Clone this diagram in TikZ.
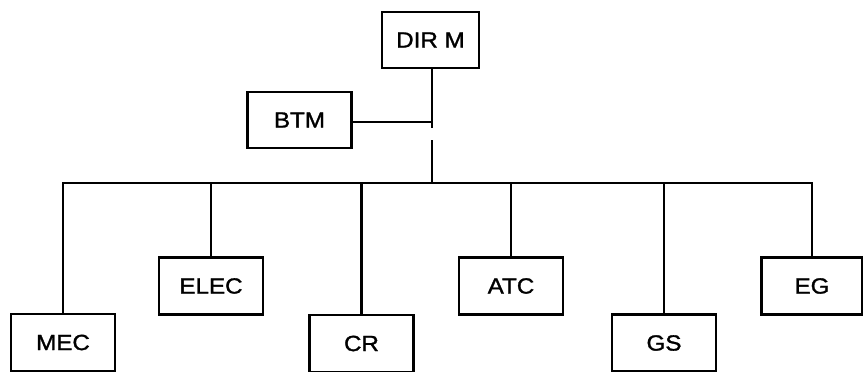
\documentclass[tikz,border=0pt]{standalone}
\usepackage{fontspec}
\usepackage{graphicx}
\setmainfont{Liberation Sans}
\newfontfamily\boxfont{Liberation Sans}[FakeBold=1.3]
\newcommand{\widetext}[1]{\scalebox{1.1}[1]{\boxfont #1}}
\begin{document}
\begin{tikzpicture}[x=1pt,y=-1pt,
  orgbox/.style={draw,line width=2.4pt,minimum width=104pt,minimum height=57pt,inner sep=0pt,font=\fontsize{22}{24}\selectfont},
  conn/.style={line width=2.2pt}]
\useasboundingbox (0,0) rectangle (863,372);
\node[orgbox,minimum width=97pt,minimum height=56pt] (dir) at (430.5,40) {\widetext{DIR M}};
\node[orgbox,minimum height=56pt] (btm) at (299.5,120) {\widetext{BTM}};
\node[orgbox] (mec) at (63,342.5) {\widetext{MEC}};
\node[orgbox] (elec) at (211,286) {\widetext{ELEC}};
\node[orgbox] (cr) at (361.5,343.5) {\widetext{CR}};
\node[orgbox] (atc) at (511,286) {\widetext{ATC}};
\node[orgbox] (gs) at (664,343) {\widetext{GS}};
\node[orgbox,minimum width=101pt] (eg) at (812,286) {\widetext{EG}};
\coordinate (j) at (432,122);
\coordinate (g1) at (432,128);
\coordinate (g2) at (432,140);
\coordinate (bus) at (432,183);
\draw[conn] (dir.south -| j) -- (g1);
\draw[conn] (btm.east |- j) -- (j);
\draw[conn] (g2) -- (bus);
\draw[conn] (mec.north) -- (mec.north |- bus) -- (eg.north |- bus) -- (eg.north);
\draw[conn] (elec.north) -- (elec.north |- bus);
\draw[conn] (cr.north) -- (cr.north |- bus);
\draw[conn] (atc.north) -- (atc.north |- bus);
\draw[conn] (gs.north) -- (gs.north |- bus);
\end{tikzpicture}
\end{document}
